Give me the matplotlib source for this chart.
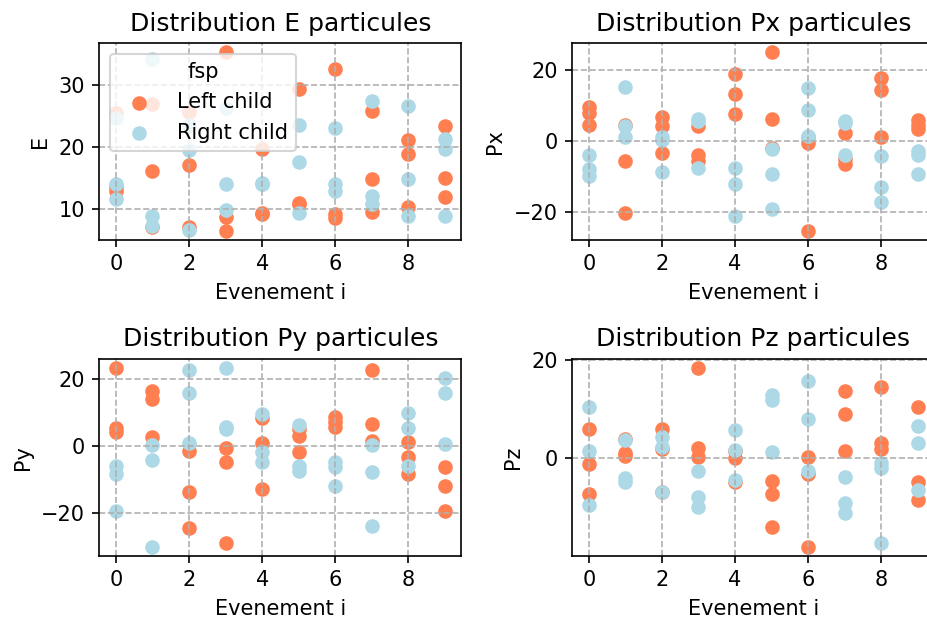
import numpy as np
import matplotlib.pyplot as plt

# event index on the x axis, 3 final state particles per child and event
events = np.arange(10)

# energy of the particles (left child / right child), one row per event
E_left = [[25.4, 13.5, 12.9], [26.9, 16.0, 7.0], [25.7, 17.1, 7.0], [35.3, 8.7, 6.4], [19.6, 9.2, 9.1],
          [29.4, 10.9, 10.7], [32.6, 9.1, 8.4], [25.8, 14.7, 9.5], [21.1, 18.9, 10.3], [23.4, 15.0, 11.8]]
E_right = [[24.6, 14.0, 11.6], [34.2, 8.8, 7.2], [23.5, 19.4, 6.6], [26.2, 14.0, 9.8], [14.2, 14.0, 13.9],
           [23.5, 17.5, 9.2], [23.0, 14.0, 12.9], [27.4, 12.1, 10.8], [26.6, 14.7, 8.8], [21.2, 19.6, 8.8]]

Px_left = [[9.6, 7.9, 4.5], [4.5, -5.5, -20.1], [6.6, 4.2, -3.3], [4.2, -3.9, -5.5], [18.7, 13.1, 7.5],
           [24.9, 6.1, -2.0], [1.0, -0.7, -25.2], [2.3, -5.0, -6.5], [17.8, 14.3, 1.0], [5.9, 4.5, 3.3]]
Px_right = [[-3.9, -7.9, -9.8], [15.2, 4.2, 1.0], [1.0, 0.2, -8.6], [6.2, 5.6, -7.7], [-7.5, -12.1, -21.0],
            [-2.3, -9.3, -19.2], [14.8, 8.7, 1.4], [5.6, 5.0, -3.9], [-4.1, -12.8, -17.2], [-2.8, -3.9, -9.3]]

Py_left = [[23.5, 5.5, 4.2], [16.5, 14.2, 2.9], [-1.5, -13.8, -24.5], [-0.5, -4.8, -29.1], [8.5, 0.9, -12.8],
           [5.0, 3.2, -1.8], [8.7, 7.2, 5.7], [22.9, 6.7, 1.5], [1.2, -3.1, -8.3], [-6.1, -11.8, -19.5]]
Py_right = [[-5.8, -8.3, -19.5], [0.5, -4.1, -30.1], [22.7, 15.9, 0.9], [23.5, 5.7, 5.0], [9.7, -1.8, -4.8],
            [6.2, -5.8, -7.3], [-4.8, -6.1, -11.8], [0.5, -7.8, -23.8], [9.9, 5.5, -5.8], [20.5, 15.9, 0.7]]

Pz_left = [[6.0, -1.2, -7.4], [3.8, 1.0, 0.3], [6.0, 1.9, -7.0], [18.4, 2.1, 0.1], [1.5, -0.1, -4.8],
           [-4.7, -7.4, -14.0], [0.1, -3.3, -18.1], [13.6, 9.0, 1.5], [14.4, 3.1, 1.9], [10.4, -4.9, -8.6]]
Pz_right = [[10.4, 1.5, -9.6], [3.6, -4.0, -4.9], [4.2, 2.2, -7.0], [-2.7, -7.9, -9.9], [5.6, 1.7, -4.5],
            [12.9, 11.8, 1.2], [15.6, 7.9, -2.7], [-3.8, -9.2, -11.3], [-1.0, -2.0, -17.3], [6.5, 3.1, -6.5]]

names = ['E', 'Px', 'Py', 'Pz']
left = [E_left, Px_left, Py_left, Pz_left]
right = [E_right, Px_right, Py_right, Pz_right]

x = np.repeat(events, 3)

fig = plt.figure(figsize=(927 / 150, 623 / 150), dpi=150)
# axes boxes in figure fraction (right column runs a little past the edge)
boxes = [[0.1073, 0.6153, 0.3905, 0.3152], [0.6174, 0.6153, 0.3905, 0.3152],
         [0.1073, 0.1080, 0.3905, 0.3162], [0.6174, 0.1080, 0.3905, 0.3162]]

for k in range(4):
    ax = fig.add_axes(boxes[k])
    ax.scatter(x, np.ravel(left[k]), color='coral', label='Left child')
    ax.scatter(x, np.ravel(right[k]), color='lightblue', label='Right child')
    ax.set_title('Distribution ' + names[k] + ' particules')
    ax.set_xlabel('Evenement i')
    ax.set_ylabel(names[k])
    ax.grid(linestyle='--')
    if k == 0:
        ax.legend(title='fsp', loc='upper left')

fig.savefig('out.png', dpi=150)
